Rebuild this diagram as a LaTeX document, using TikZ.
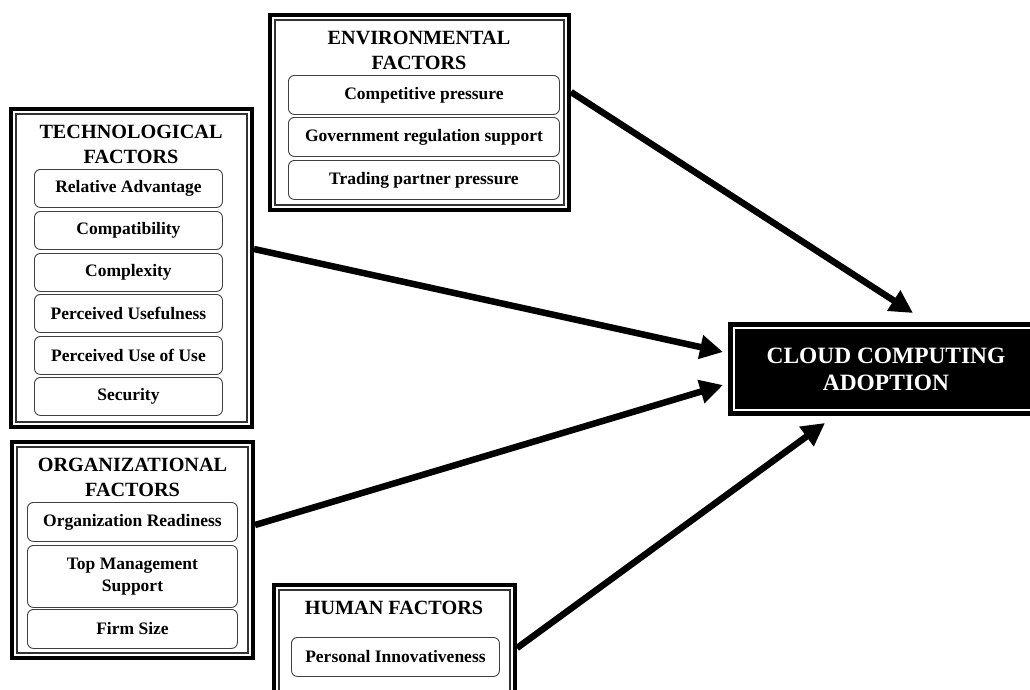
\documentclass[tikz,border=0pt]{standalone}
\usepackage{fontspec}
\setmainfont{Liberation Serif}
\usetikzlibrary{arrows.meta,calc}
\tikzset{
  gbox/.style={draw=black, line width=4pt, anchor=north west, inner sep=0pt},
  inline/.style={draw=black!80, line width=1.1pt},
  sub/.style={draw=black!75, line width=0.9pt, rounded corners=6pt, anchor=north west,
    inner sep=0pt, align=center, font=\fontsize{17.5}{22}\selectfont\bfseries},
  ttl/.style={align=center, inner sep=0pt, font=\fontsize{20.2}{25}\selectfont\bfseries},
  conn/.style={line width=6.5pt, -{Triangle[length=23pt,width=23pt]}},
}
\newcommand\groupframe[5]{%
  \node[gbox, minimum width=#4pt, minimum height=#5pt] (#1) at (#2,#3) {};
  \draw[inline] ([shift={(7,7)}]#1.north west) rectangle ([shift={(-7,-7)}]#1.south east);
}
\begin{document}
\begin{tikzpicture}[x=1pt,y=-1pt]
\useasboundingbox (0,0) rectangle (1030,689);
\clip (0,0) rectangle (1030,689);
\fill[white] (0,0) rectangle (1030,689);

% Environmental
\groupframe{env}{268}{13}{299}{195}
\node[ttl] (envt) at (419,50) {ENVIRONMENTAL\\FACTORS};
\node[sub, minimum width=271pt, minimum height=39pt] (e1) at (288,75) {Competitive pressure};
\node[sub, minimum width=271pt, minimum height=39pt] (e2) at (288,117) {Government regulation support};
\node[sub, minimum width=271pt, minimum height=39pt] (e3) at (288,160) {Trading partner pressure};

% Technological
\groupframe{tech}{9}{107}{241}{318}
\node[ttl] (techt) at (131,144) {TECHNOLOGICAL\\FACTORS};
\node[sub, minimum width=188pt, minimum height=38pt] (t1) at (34,169) {Relative Advantage};
\node[sub, minimum width=188pt, minimum height=38pt] (t2) at (34,211) {Compatibility};
\node[sub, minimum width=188pt, minimum height=38pt] (t3) at (34,253) {Complexity};
\node[sub, minimum width=188pt, minimum height=38pt] (t4) at (34,294) {Perceived Usefulness};
\node[sub, minimum width=188pt, minimum height=38pt] (t5) at (34,336) {Perceived Use of Use};
\node[sub, minimum width=188pt, minimum height=38pt] (t6) at (34,377) {Security};

% Organizational
\groupframe{org}{10}{440}{241}{216}
\node[ttl] (orgt) at (132.5,477) {ORGANIZATIONAL\\FACTORS};
\node[sub, minimum width=210pt, minimum height=39pt] (o1) at (27,502) {Organization Readiness};
\node[sub, minimum width=210pt, minimum height=62pt] (o2) at (27,545) {Top Management\\Support};
\node[sub, minimum width=210pt, minimum height=39pt] (o3) at (27,609) {Firm Size};

% Human
\groupframe{hum}{272}{583}{241}{140}
\node[ttl] (humt) at (394,608) {HUMAN FACTORS};
\node[sub, minimum width=208pt, minimum height=39pt] (h1) at (291,637) {Personal Innovativeness};

% Cloud computing adoption
\node[draw=black, fill=black, line width=2pt, anchor=north west, inner sep=0pt,
      minimum width=330pt, minimum height=92pt] (cloud) at (728,322) {};
\draw[white, line width=1.3pt] ([shift={(6,6)}]cloud.north west) rectangle ([shift={(-6,-6)}]cloud.south east);
\node[align=center, inner sep=0pt, text=white, font=\fontsize{23.4}{27}\selectfont\bfseries]
  (cloudt) at (886,369) {CLOUD COMPUTING\\ADOPTION};

% Connectors
\draw[conn] ($(env.north east)+(0,79)$) -- ($(cloud.north west)+(185,-9)$);
\draw[conn] ($(tech.north east)+(0,142)$) -- ($(cloud.north west)+(-5,30)$);
\draw[conn] ($(org.north east)+(0,85)$) -- ($(cloud.north west)+(-5,63)$);
\draw[conn] ($(hum.north east)+(0,65)$) -- ($(cloud.north west)+(97,101)$);
\end{tikzpicture}
\end{document}
